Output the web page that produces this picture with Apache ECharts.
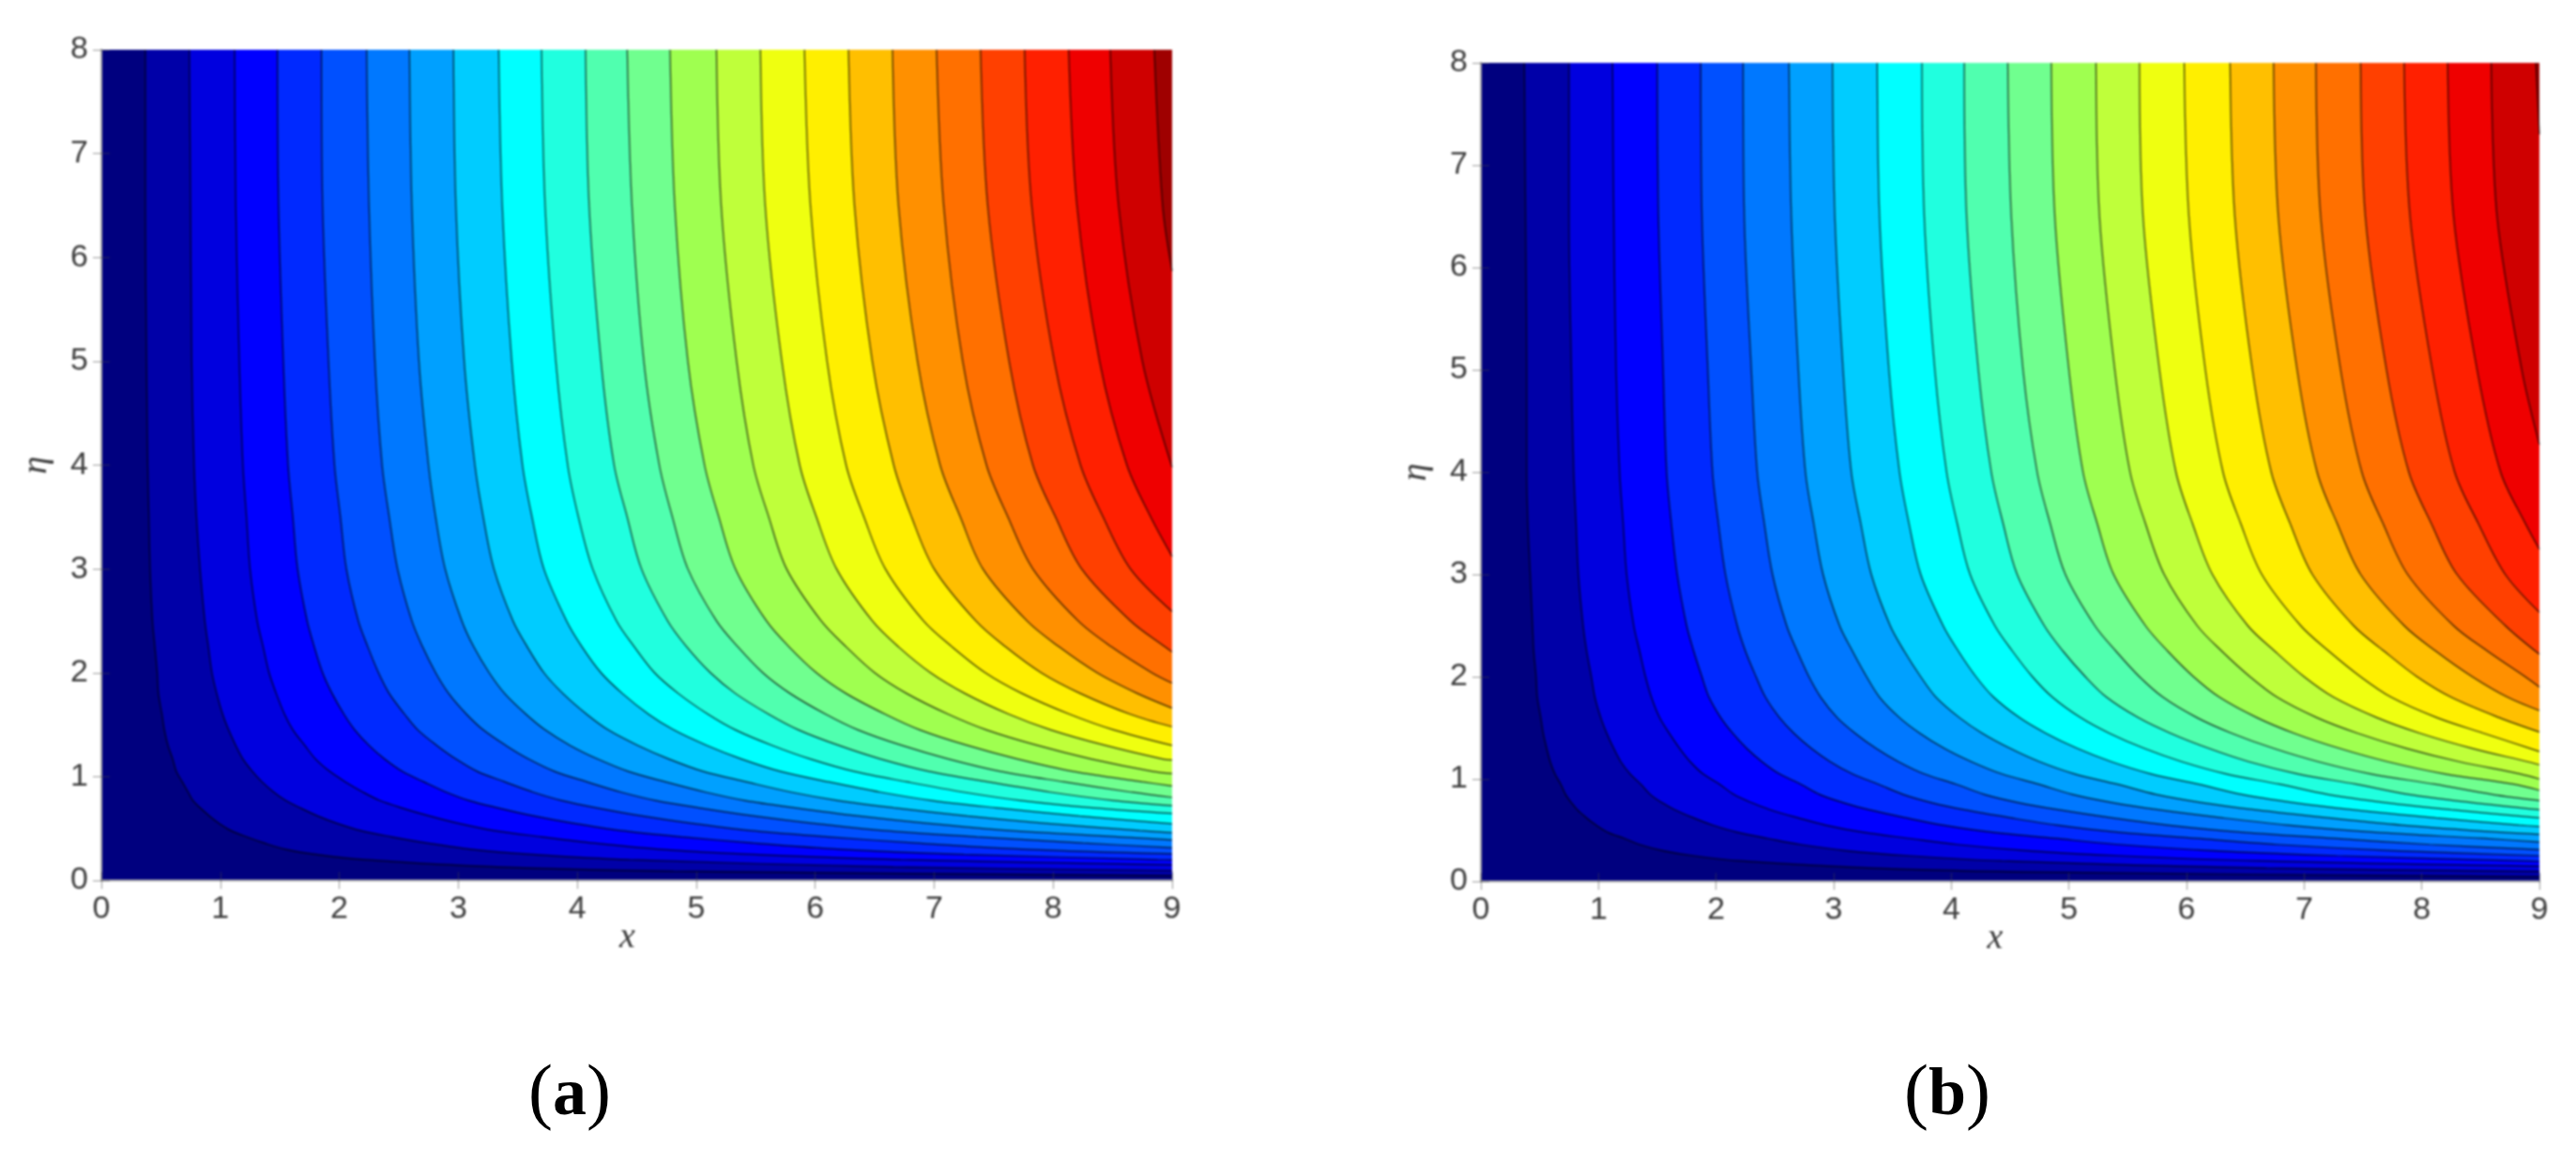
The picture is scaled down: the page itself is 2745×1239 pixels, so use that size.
<!DOCTYPE html>
<html>
<head>
<meta charset="utf-8">
<title>Contours</title>
<script src="https://cdn.jsdelivr.net/npm/echarts@6/dist/echarts.min.js"></script>
<style>
  html, body { margin: 0; padding: 0; background: #fff; }
  #chart, #captions { position: absolute; left: 0; top: 0; width: 2745px; height: 1239px; }
  /* the plots in the source figure are an upscaled, soft image, the captions are not */
  #chart { filter: blur(0.8px); }
</style>
</head>
<body>
<div id="chart"></div>
<div id="captions"></div>
<script>
// Tick labels
const xTicks = [0, 1, 2, 3, 4, 5, 6, 7, 8, 9];
const etaTicks = [0, 1, 2, 3, 4, 5, 6, 7, 8];

const etaLevels = [8, 6.5, 5, 4, 3.5, 3, 2.5, 2.25, 2, 1.8, 1.6, 1.45, 1.3, 1.17, 1.05,
  0.95, 0.85, 0.77, 0.7, 0.62, 0.55, 0.48, 0.42, 0.36, 0.3, 0.25, 0.2, 0.13, 0.09, 0.045];

// Band colours, low to high
const bandColors = [
  '#00007f', '#0000a8', '#0000df', '#0000ff', '#0029ff',
  '#0050ff', '#0078ff', '#00a0ff', '#00ccff', '#00ffff',
  '#20ffdf', '#50ffaf', '#70ff8f', '#9fff50', '#bfff3a',
  '#efff10', '#ffef00', '#ffbf00', '#ff9000', '#ff7000',
  '#ff4000', '#ff2000', '#ef0000', '#cf0000', '#9f0000',
];

// Panel (a): x of each contour at etaLevels, stops where it leaves through x = 9
const contoursA = [
  [0.37, 0.37, 0.38, 0.39, 0.40, 0.41, 0.43, 0.45, 0.47, 0.48, 0.51, 0.53, 0.56, 0.60, 0.63, 0.68, 0.73, 0.77, 0.83, 0.91, 0.99, 1.09, 1.22, 1.37, 1.55, 1.81, 2.22, 3.33, 4.81],
  [0.74, 0.75, 0.76, 0.78, 0.80, 0.83, 0.87, 0.90, 0.93, 0.97, 1.02, 1.07, 1.13, 1.19, 1.27, 1.35, 1.45, 1.55, 1.67, 1.82, 1.98, 2.18, 2.44, 2.74, 3.11, 3.63, 4.44, 6.66],
  [1.12, 1.13, 1.16, 1.19, 1.22, 1.25, 1.31, 1.36, 1.41, 1.47, 1.54, 1.61, 1.71, 1.80, 1.92, 2.05, 2.20, 2.34, 2.52, 2.76, 3.00, 3.30, 3.70, 4.14, 4.70, 5.49, 6.72],
  [1.48, 1.49, 1.53, 1.57, 1.61, 1.65, 1.73, 1.79, 1.86, 1.94, 2.04, 2.13, 2.25, 2.38, 2.53, 2.71, 2.90, 3.09, 3.33, 3.64, 3.97, 4.37, 4.88, 5.48, 6.22, 7.25, 8.88],
  [1.85, 1.86, 1.91, 1.96, 2.01, 2.06, 2.16, 2.24, 2.33, 2.42, 2.55, 2.66, 2.82, 2.98, 3.16, 3.39, 3.63, 3.87, 4.16, 4.55, 4.96, 5.46, 6.11, 6.85, 7.77],
  [2.23, 2.25, 2.30, 2.36, 2.42, 2.49, 2.61, 2.70, 2.81, 2.92, 3.07, 3.21, 3.40, 3.59, 3.81, 4.08, 4.37, 4.66, 5.02, 5.49, 5.98, 6.58, 7.36, 8.25],
  [2.59, 2.61, 2.67, 2.75, 2.81, 2.89, 3.03, 3.13, 3.26, 3.39, 3.57, 3.73, 3.94, 4.17, 4.43, 4.74, 5.08, 5.41, 5.83, 6.37, 6.94, 7.64, 8.55],
  [2.96, 2.98, 3.05, 3.14, 3.21, 3.30, 3.46, 3.58, 3.72, 3.88, 4.08, 4.26, 4.51, 4.77, 5.06, 5.42, 5.80, 6.19, 6.66, 7.28, 7.93, 8.73],
  [3.34, 3.37, 3.45, 3.54, 3.62, 3.72, 3.91, 4.04, 4.20, 4.38, 4.60, 4.81, 5.09, 5.38, 5.71, 6.11, 6.55, 6.98, 7.52, 8.22, 8.95],
  [3.70, 3.73, 3.82, 3.92, 4.01, 4.13, 4.33, 4.48, 4.65, 4.85, 5.10, 5.33, 5.64, 5.96, 6.33, 6.77, 7.25, 7.73, 8.33],
  [4.07, 4.10, 4.20, 4.31, 4.42, 4.54, 4.76, 4.92, 5.12, 5.33, 5.61, 5.86, 6.20, 6.55, 6.96, 7.45, 7.98, 8.51],
  [4.42, 4.46, 4.56, 4.69, 4.80, 4.93, 5.17, 5.35, 5.56, 5.79, 6.09, 6.36, 6.73, 7.12, 7.56, 8.09, 8.66],
  [4.78, 4.82, 4.93, 5.07, 5.19, 5.33, 5.59, 5.78, 6.01, 6.26, 6.59, 6.88, 7.28, 7.70, 8.17, 8.75],
  [5.17, 5.21, 5.34, 5.48, 5.61, 5.76, 6.05, 6.26, 6.50, 6.77, 7.12, 7.44, 7.87, 8.32, 8.84],
  [5.54, 5.58, 5.72, 5.87, 6.01, 6.18, 6.48, 6.70, 6.97, 7.26, 7.63, 7.98, 8.44, 8.92],
  [5.91, 5.96, 6.10, 6.26, 6.41, 6.59, 6.91, 7.15, 7.43, 7.74, 8.14, 8.51],
  [6.28, 6.33, 6.48, 6.66, 6.81, 7.00, 7.35, 7.60, 7.90, 8.23, 8.65],
  [6.65, 6.70, 6.86, 7.05, 7.22, 7.41, 7.78, 8.05, 8.37, 8.71],
  [7.02, 7.08, 7.24, 7.44, 7.62, 7.83, 8.21, 8.49, 8.83],
  [7.39, 7.45, 7.63, 7.83, 8.02, 8.24, 8.65, 8.94],
  [7.76, 7.82, 8.01, 8.23, 8.42, 8.65],
  [8.13, 8.20, 8.39, 8.62, 8.82],
  [8.48, 8.55, 8.75],
  [8.85, 8.92],
];
// Panel (a): eta where each contour meets the right edge
const edgeEtaA = [0.047, 0.095, 0.15, 0.197, 0.256, 0.315, 0.39, 0.46, 0.545, 0.645, 0.72, 0.80,
  0.91, 1.03, 1.16, 1.30, 1.48, 1.66, 1.90, 2.20, 2.59, 3.12, 3.98, 5.87];

// Panel (b)
const contoursB = [
  [0.37, 0.38, 0.39, 0.39, 0.40, 0.42, 0.44, 0.45, 0.47, 0.48, 0.51, 0.53, 0.56, 0.59, 0.63, 0.68, 0.72, 0.77, 0.82, 0.90, 0.98, 1.08, 1.22, 1.35, 1.55, 1.81, 2.21, 3.33, 4.79],
  [0.75, 0.75, 0.77, 0.79, 0.81, 0.83, 0.87, 0.90, 0.94, 0.97, 1.02, 1.07, 1.13, 1.19, 1.27, 1.36, 1.44, 1.54, 1.65, 1.81, 1.97, 2.18, 2.44, 2.72, 3.11, 3.64, 4.43, 6.68],
  [1.12, 1.13, 1.15, 1.18, 1.21, 1.24, 1.30, 1.35, 1.40, 1.45, 1.52, 1.60, 1.69, 1.78, 1.89, 2.03, 2.15, 2.30, 2.46, 2.70, 2.93, 3.25, 3.64, 4.05, 4.65, 5.43, 6.61],
  [1.50, 1.51, 1.55, 1.58, 1.62, 1.67, 1.75, 1.81, 1.88, 1.94, 2.04, 2.14, 2.26, 2.39, 2.54, 2.72, 2.88, 3.08, 3.30, 3.62, 3.93, 4.35, 4.88, 5.43, 6.23, 7.28, 8.85],
  [1.87, 1.88, 1.93, 1.97, 2.02, 2.08, 2.18, 2.25, 2.34, 2.42, 2.54, 2.66, 2.81, 2.97, 3.16, 3.38, 3.59, 3.83, 4.11, 4.51, 4.90, 5.42, 6.08, 6.77, 7.76],
  [2.23, 2.24, 2.30, 2.35, 2.41, 2.48, 2.60, 2.69, 2.79, 2.89, 3.03, 3.18, 3.36, 3.55, 3.77, 4.04, 4.28, 4.57, 4.91, 5.37, 5.84, 6.47, 7.25, 8.07],
  [2.62, 2.64, 2.70, 2.76, 2.83, 2.91, 3.05, 3.16, 3.28, 3.39, 3.56, 3.73, 3.94, 4.17, 4.43, 4.74, 5.03, 5.37, 5.76, 6.31, 6.86, 7.60, 8.52],
  [2.99, 3.01, 3.08, 3.15, 3.23, 3.32, 3.48, 3.60, 3.74, 3.87, 4.07, 4.26, 4.50, 4.75, 5.05, 5.41, 5.74, 6.13, 6.58, 7.21, 7.83, 8.67],
  [3.37, 3.39, 3.47, 3.56, 3.64, 3.74, 3.93, 4.06, 4.21, 4.36, 4.58, 4.80, 5.07, 5.36, 5.70, 6.10, 6.47, 6.91, 7.41, 8.12, 8.83],
  [3.75, 3.77, 3.86, 3.96, 4.05, 4.16, 4.37, 4.52, 4.69, 4.86, 5.10, 5.34, 5.64, 5.96, 6.34, 6.79, 7.20, 7.69, 8.25],
  [4.11, 4.13, 4.23, 4.34, 4.44, 4.56, 4.79, 4.95, 5.14, 5.32, 5.59, 5.86, 6.19, 6.53, 6.95, 7.44, 7.89, 8.43],
  [4.48, 4.51, 4.61, 4.73, 4.84, 4.97, 5.22, 5.40, 5.60, 5.80, 6.09, 6.38, 6.74, 7.12, 7.57, 8.11, 8.60],
  [4.85, 4.88, 5.00, 5.12, 5.24, 5.38, 5.65, 5.84, 6.06, 6.28, 6.60, 6.91, 7.30, 7.71, 8.20, 8.78],
  [5.23, 5.26, 5.39, 5.52, 5.65, 5.81, 6.09, 6.30, 6.54, 6.77, 7.11, 7.45, 7.87, 8.32, 8.84],
  [5.60, 5.63, 5.77, 5.91, 6.05, 6.22, 6.52, 6.75, 7.00, 7.25, 7.62, 7.98, 8.43, 8.90],
  [5.98, 6.02, 6.16, 6.31, 6.46, 6.64, 6.97, 7.21, 7.48, 7.74, 8.13, 8.52],
  [6.37, 6.41, 6.56, 6.72, 6.88, 7.07, 7.42, 7.68, 7.96, 8.25, 8.66],
  [6.74, 6.78, 6.94, 7.11, 7.28, 7.48, 7.85, 8.12, 8.43, 8.73],
  [7.10, 7.14, 7.31, 7.49, 7.67, 7.88, 8.27, 8.56, 8.88],
  [7.48, 7.52, 7.70, 7.89, 8.08, 8.30, 8.71],
  [7.85, 7.90, 8.09, 8.28, 8.48, 8.71],
  [8.22, 8.27, 8.47, 8.67, 8.88],
  [8.59, 8.64, 8.85],
  [8.97],
];
const edgeEtaB = [0.045, 0.097, 0.148, 0.195, 0.25, 0.31, 0.385, 0.46, 0.535, 0.62, 0.70, 0.79,
  0.89, 1.0, 1.14, 1.27, 1.46, 1.67, 1.90, 2.22, 2.63, 3.245, 4.27, 7.3];

const tickColor = 'rgba(70, 70, 70, 0.55)';
const labelFont = '"Liberation Sans", sans-serif';
const nameFont = '"Liberation Serif", serif';

// One filled line series per contour, area goes up to eta = 8
const contourSeries = (rows, edges, xAxisIndex, yAxisIndex) => rows.map((row, i) => ({
  type: 'line',
  xAxisIndex,
  yAxisIndex,
  data: row.map((x, j) => [x, etaLevels[j]]).concat([[9, edges[i]]]),
  smooth: 0.33,
  symbol: 'none',
  silent: true,
  z: 2 + i * 0.01,
  lineStyle: { color: 'rgba(0, 0, 0, 0.8)', width: 1.2 },
  areaStyle: { origin: 'end', color: bandColors[i + 1], opacity: 1 },
}));

// Axes, the mirror pair only carries the ticks on top and right
const makeX = (grid, nameShift) => [
  {
    type: 'value', gridIndex: grid, min: 0, max: 9, interval: 1, z: 10,
    name: 'x', nameLocation: 'middle', nameGap: 42, nameMoveOverlap: false,
    nameTextStyle: { fontFamily: nameFont, fontStyle: 'italic', fontSize: 38, color: '#3a3a3a', padding: [0, nameShift, 0, 0] },
    axisLine: { lineStyle: { color: '#999', width: 2 } },
    axisTick: { inside: true, length: 9, lineStyle: { color: tickColor } },
    axisLabel: { fontFamily: labelFont, fontSize: 34, color: '#3d3d3d', margin: 14, formatter: v => xTicks[v] },
    splitLine: { show: false },
  },
  {
    type: 'value', gridIndex: grid, position: 'top', min: 0, max: 9, interval: 1, z: 10,
    axisLine: { lineStyle: { color: '#aaa', width: 2 } },
    axisTick: { inside: true, length: 9, lineStyle: { color: tickColor } },
    axisLabel: { show: false },
    splitLine: { show: false },
  },
];

const makeY = (grid) => [
  {
    type: 'value', gridIndex: grid, min: 0, max: 8, interval: 1, z: 10,
    name: 'η', nameLocation: 'middle', nameGap: 50,
    nameTextStyle: { fontFamily: nameFont, fontStyle: 'italic', fontSize: 38, color: '#3a3a3a' },
    axisLine: { lineStyle: { color: '#999', width: 2 } },
    axisTick: { inside: true, length: 9, lineStyle: { color: tickColor } },
    axisLabel: { fontFamily: labelFont, fontSize: 34, color: '#3d3d3d', margin: 14, formatter: v => etaTicks[v] },
    splitLine: { show: false },
  },
  {
    type: 'value', gridIndex: grid, position: 'right', min: 0, max: 8, interval: 1, z: 10,
    axisLine: { lineStyle: { color: '#aaa', width: 2 } },
    axisTick: { inside: true, length: 9, lineStyle: { color: tickColor } },
    axisLabel: { show: false },
    splitLine: { show: false },
  },
];

const panelTitle = (letter, left) => ({
  text: `{p|(}{b|${letter}}{p|)}`,
  left,
  top: 1124,
  textAlign: 'center',
  textStyle: {
    fontWeight: 'normal',
    rich: {
      p: { fontFamily: nameFont, fontSize: 78, fontWeight: 'normal', color: '#000' },
      b: { fontFamily: nameFont, fontSize: 72, fontWeight: 'bold', color: '#000' },
    },
  },
});

const chart = echarts.init(document.getElementById('chart'));
chart.setOption({
  animation: false,
  backgroundColor: '#fff',
  grid: [
    { left: 108, top: 53, width: 1141, height: 885, show: true, backgroundColor: bandColors[0], borderWidth: 0 },
    { left: 1578, top: 67, width: 1128, height: 872, show: true, backgroundColor: bandColors[0], borderWidth: 0 },
  ],
  xAxis: [...makeX(0, 20), ...makeX(1, 32)],
  yAxis: [...makeY(0), ...makeY(1)],
  series: [
    ...contourSeries(contoursA, edgeEtaA, 0, 0),
    ...contourSeries(contoursB, edgeEtaB, 2, 2),
  ],
});

// Captions stay sharp, so they get their own instance
const captions = echarts.init(document.getElementById('captions'));
captions.setOption({
  animation: false,
  title: [panelTitle('a', 602), panelTitle('b', 2070)],
});
</script>
</body>
</html>
